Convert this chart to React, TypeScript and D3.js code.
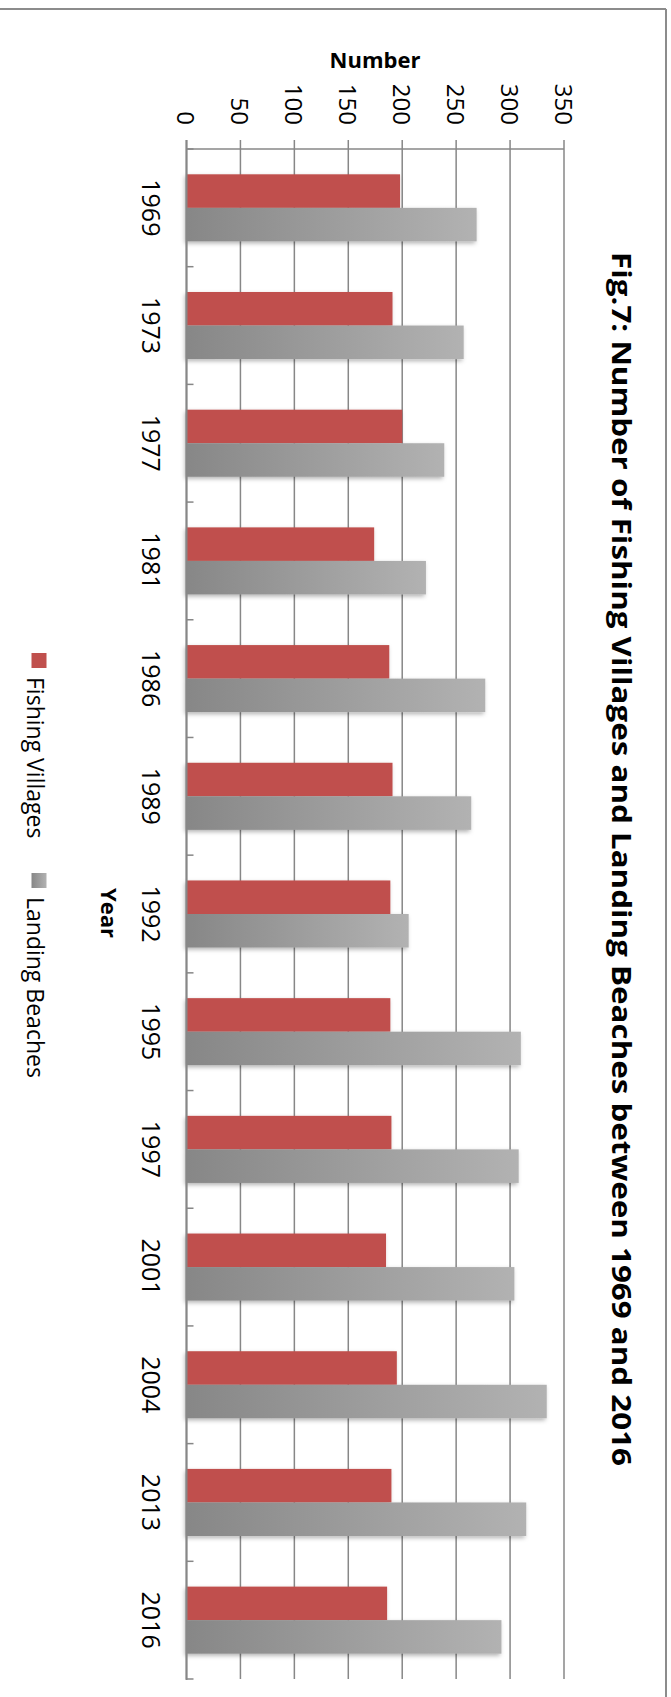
import React from "react";
import * as d3 from "d3";

const years = ["1969", "1973", "1977", "1981", "1986", "1989", "1992", "1995", "1997", "2001", "2004", "2013", "2016"];
const fishingVillages = [198, 191, 200, 174, 188, 191, 189, 189, 190, 185, 195, 190, 186];
const landingBeaches = [269, 257, 239, 222, 277, 264, 206, 310, 308, 304, 334, 315, 292];
const valueTicks = [0, 50, 100, 150, 200, 250, 300, 350];
const seriesNames = ["Fishing Villages", "Landing Beaches"];
const titleText = "Fig.7: Number of Fishing Villages and Landing Beaches between 1969 and 2016";
const valueAxisTitle = "Number";
const categoryAxisTitle = "Year";

const W = 671;
const H = 1697;
const FONT = "'Open Sans', 'Liberation Sans', sans-serif";
const RED = "#C0504D";
const GRID = "#878787";

export default function App() {
  const x = d3.scaleLinear().domain([0, 350]).range([186.5, 564]);
  const y = d3
    .scaleBand<string>()
    .domain(years)
    .range([149, 1679])
    .paddingInner(0.43)
    .paddingOuter(0.215);
  const sub = d3.scaleBand<string>().domain(seriesNames).range([0, y.bandwidth()]);
  const step = y.step();
  const boundaries = d3.range(years.length + 1).map((i) => 149 + i * step);

  const rows = years.map((yr, i) => ({ yr, fv: fishingVillages[i], lb: landingBeaches[i] }));

  return (
    <svg width={W} height={H} style={{ position: "absolute", left: 0, top: 0, background: "#fff" }}>
      <defs>
        <linearGradient id="lbGrad" x1="0" y1="0" x2="1" y2="0">
          <stop offset="0" stopColor="#878787" />
          <stop offset="1" stopColor="#B2B2B2" />
        </linearGradient>
        <filter id="shadow" x="-10%" y="-30%" width="120%" height="160%">
          <feDropShadow dx="-1.5" dy="2" stdDeviation="2" floodColor="#000" floodOpacity="0.3" />
        </filter>
      </defs>

      {/* page frame */}
      <line x1={0} x2={666} y1={9} y2={9} stroke="#8c8c8c" strokeWidth={2} />
      <line x1={666} x2={666} y1={9} y2={H} stroke="#8c8c8c" strokeWidth={2} />

      {/* gridlines */}
      {valueTicks.map((t) => (
        <line key={"g" + t} x1={x(t)} x2={x(t)} y1={140} y2={1679} stroke={GRID} strokeWidth={1.5} />
      ))}
      {/* value axis line */}
      <line x1={x(0)} x2={x(350)} y1={149} y2={149} stroke={GRID} strokeWidth={1.5} />

      {/* bars */}
      {rows.map((r) => (
        <g key={r.yr} filter="url(#shadow)">
          <rect
            x={x(0)}
            y={(y(r.yr) as number) + (sub(seriesNames[0]) as number)}
            width={x(r.fv) - x(0)}
            height={sub.bandwidth()}
            fill={RED}
          />
          <rect
            x={x(0)}
            y={(y(r.yr) as number) + (sub(seriesNames[1]) as number)}
            width={x(r.lb) - x(0)}
            height={sub.bandwidth()}
            fill="url(#lbGrad)"
          />
        </g>
      ))}

      {/* category axis */}
      <line x1={x(0)} x2={x(0)} y1={140} y2={1680} stroke={GRID} strokeWidth={2} />
      {boundaries.map((b, i) => (
        <line key={"ct" + i} x1={x(0)} x2={x(0) + 7} y1={b} y2={b} stroke={GRID} strokeWidth={1.5} />
      ))}

      {/* value tick labels */}
      {valueTicks.map((t) => (
        <text
          key={"vt" + t}
          transform={`translate(${x(t)},125) rotate(90)`}
          textAnchor="end"
          dominantBaseline="central"
          fontFamily={FONT}
          fontSize={24}
          fill="#000"
        >
          {t}
        </text>
      ))}

      {/* category labels */}
      {years.map((yr) => (
        <text
          key={"cl" + yr}
          transform={`translate(152,${(y(yr) as number) + y.bandwidth() / 2}) rotate(90)`}
          textAnchor="middle"
          dominantBaseline="central"
          fontFamily={FONT}
          fontSize={25}
          fill="#000"
        >
          {yr}
        </text>
      ))}

      {/* axis titles */}
      <text x={375} y={68} textAnchor="middle" fontFamily={FONT} fontWeight="bold" fontSize={22} fill="#000">
        {valueAxisTitle}
      </text>
      <text
        transform={`translate(110,913) rotate(90)`}
        textAnchor="middle"
        dominantBaseline="central"
        fontFamily={FONT}
        fontWeight="bold"
        fontSize={22}
        fill="#000"
      >
        {categoryAxisTitle}
      </text>

      {/* title */}
      <text
        transform={`translate(612,859) rotate(90)`}
        textAnchor="middle"
        fontFamily={FONT}
        fontWeight="bold"
        fontSize={27}
        textLength={1214}
        lengthAdjust="spacingAndGlyphs"
        fill="#000"
      >
        {titleText}
      </text>

      {/* legend */}
      <rect x={31.5} y={653} width={15} height={15} fill={RED} />
      <text
        transform={`translate(36,677) rotate(90)`}
        dominantBaseline="central"
        fontFamily={FONT}
        fontSize={23}
        fill="#000"
      >
        {seriesNames[0]}
      </text>
      <rect x={31.5} y={873} width={15} height={15} fill="url(#lbGrad)" />
      <text
        transform={`translate(36,897) rotate(90)`}
        dominantBaseline="central"
        fontFamily={FONT}
        fontSize={23}
        fill="#000"
      >
        {seriesNames[1]}
      </text>
    </svg>
  );
}
